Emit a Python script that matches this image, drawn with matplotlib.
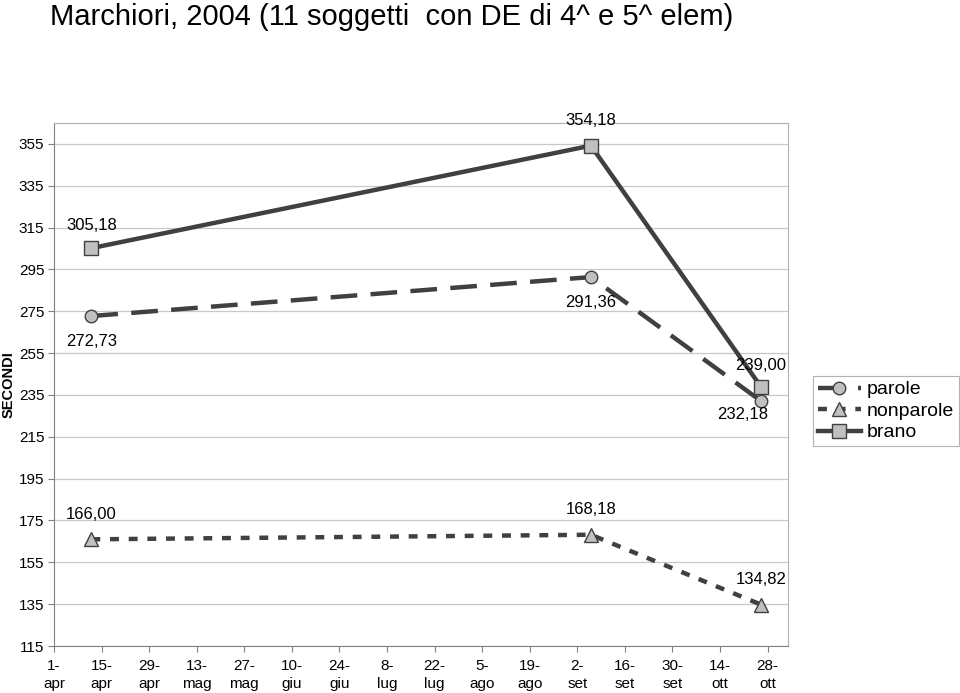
import matplotlib
matplotlib.use('Agg')
import matplotlib.pyplot as plt

plt.rcParams['font.family'] = ['Liberation Sans', 'DejaVu Sans']

# days from 1 april 2004
days = [11, 158, 208]
parole = [272.73, 291.36, 232.18]
nonparole = [166.00, 168.18, 134.82]
brano = [305.18, 354.18, 239.00]

tick_labels = ['1-\napr', '15-\napr', '29-\napr', '13-\nmag', '27-\nmag', '10-\ngiu',
               '24-\ngiu', '8-\nlug', '22-\nlug', '5-\nago', '19-\nago', '2-\nset',
               '16-\nset', '30-\nset', '14-\nott', '28-\nott']
y_ticks = [115, 135, 155, 175, 195, 215, 235, 255, 275, 295, 315, 335, 355]

line_col = '#404040'
mark_col = '#c0c0c0'

fig = plt.figure(figsize=(9.6, 6.93), dpi=100)
ax = fig.add_axes([0.05625, 0.0678, 0.7646, 0.7547])

ax.plot(days, parole, color=line_col, lw=3.2, ls=(0, (6, 3)), marker='o', ms=9,
        mfc=mark_col, mec=line_col, mew=1, label='parole')
ax.plot(days, nonparole, color=line_col, lw=3.2, ls=(0, (2, 2.2)), marker='^', ms=10,
        mfc=mark_col, mec=line_col, mew=1, label='nonparole')
ax.plot(days, brano, color=line_col, lw=3.2, ls='-', marker='s', ms=9.5,
        mfc=mark_col, mec=line_col, mew=1, label='brano')

def fmt(v):
    return f'{v:.2f}'.replace('.', ',')

# data labels (offsets in points)
offs_par = [(0, -18), (0, -18), (-13, -10)]
offs_non = [(0, 18), (0, 18), (0, 18)]
offs_bra = [(0, 16), (0, 18), (0, 15)]
for data, offs in [(parole, offs_par), (nonparole, offs_non), (brano, offs_bra)]:
    for x, v, o in zip(days, data, offs):
        ax.annotate(fmt(v), (x, v), xytext=o, textcoords='offset points',
                    ha='center', va='center', fontsize=12)

ax.set_xlim(0, 216)
ax.set_ylim(115, 365)
ax.set_xticks([i * 14 for i in range(len(tick_labels))])
ax.set_xticklabels(tick_labels, fontsize=11, linespacing=1.4)
ax.set_yticks(y_ticks)
ax.set_yticklabels([str(t) for t in y_ticks], fontsize=11)
ax.tick_params(axis='x', color='#808080', length=4, width=0.8, pad=5)
ax.tick_params(axis='y', color='#808080', length=4, width=0.8, pad=3)
ax.grid(axis='y', color='#c8c8c8', lw=0.9)
ax.set_axisbelow(True)
for s in ax.spines.values():
    s.set_color('#b0b0b0')
ax.spines['left'].set_color('#808080')
ax.spines['bottom'].set_color('#808080')

ax.set_ylabel('SECONDI', fontsize=10.5, fontweight='bold')
ax.yaxis.set_label_coords(-0.052, 0.5)

fig.text(0.052, 0.975, 'Marchiori, 2004 (11 soggetti  con DE di 4^ e 5^ elem)',
         fontsize=21, ha='left', va='center')

leg = ax.legend(loc='center left', bbox_to_anchor=(1.034, 0.449), fontsize=14,
                frameon=True, fancybox=False, edgecolor='#a0a0a0',
                handlelength=2.2, handletextpad=0.3, borderpad=0.25,
                labelspacing=0.2, borderaxespad=0)
leg.get_frame().set_linewidth(0.8)

fig.savefig('out.png', dpi=100)
